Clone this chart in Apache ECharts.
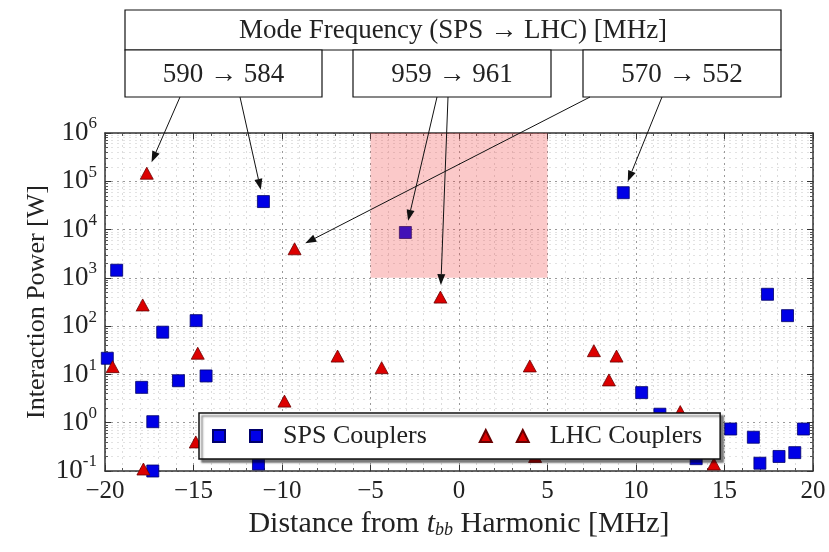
<!DOCTYPE html>
<html>
<head>
<meta charset="utf-8">
<title>Interaction Power</title>
<script src="https://cdn.jsdelivr.net/npm/echarts@6/dist/echarts.min.js"></script>
<style>
  html, body { margin: 0; padding: 0; background: #fff; }
  #chart { width: 829px; height: 552px; }
</style>
</head>
<body>
<div id="chart"></div>
<script>
// SPS 耦合器 (x: MHz, y: W)
const spsX = [-19.87, -19.34, -17.93, -17.3, -17.3, -16.74, -15.85, -14.85, -14.29, -11.33, -11.05, -3.03,
  9.28, 10.32, 11.35, 13.4, 15.35, 16.63, 17.0, 17.43, 18.08, 18.56, 18.97, 19.46];
const spsY = [21.6, 1440, 5.4, 1.05, 0.1, 75, 7.4, 130, 9.3, 0.14, 38000, 8700,
  58000, 4.2, 1.5, 0.18, 0.74, 0.5, 0.145, 457, 0.2, 165, 0.24, 0.74];

// LHC 耦合器
const lhcX = [-19.57, -17.87, -17.83, -17.64, -14.87, -14.76, -9.86, -9.29, -6.86, -4.37, -1.05,
  4.0, 4.3, 7.62, 8.47, 8.9, 12.5, 14.4];
const lhcY = [14.5, 275, 0.11, 147000, 0.4, 27.5, 2.8, 4000, 24, 13.8, 400,
  15, 0.2, 31, 7.7, 24, 1.7, 0.14];

const xTicks = [-20, -15, -10, -5, 0, 5, 10, 15, 20];
const yTicks = [0.1, 1, 10, 100, 1000, 10000, 100000, 1000000];

// 高亮区域
const zoneX = [-5, 5];
const zoneY = [1000, 1000000];

// 标注框
const headerText = 'Mode Frequency (SPS \u2192 LHC) [MHz]';
const modeLabels = ['590 \u2192 584', '959 \u2192 961', '570 \u2192 552'];
// 箭头指向的点: [series, index]
const arrowTargets = [['lhc', 3], ['sps', 10], ['sps', 11], ['lhc', 10], ['lhc', 7], ['sps', 12]];

(function() {
  const FONT = 'Liberation Serif';
  const chart = echarts.init(document.getElementById('chart'));

  function pairs(xs, ys) {
    return xs.map(function(x, i) { return [x, ys[i]]; });
  }

  function axisCommon() {
    return {
      axisLine: { show: true, onZero: false, lineStyle: { color: '#333', width: 1.5 } },
      axisTick: { show: true, inside: true, length: 6, lineStyle: { color: '#333' } },
      minorTick: { show: true, length: 3, lineStyle: { color: '#555' } }
    };
  }

  const option = {
    animation: false,
    grid: { left: 105, right: 16, top: 133, bottom: 81 },
    xAxis: [
      Object.assign(axisCommon(), {
        type: 'value', min: xTicks[0], max: xTicks[xTicks.length - 1], interval: 5,
        name: '{n|Distance from }{i|t}{sub|bb}{n| Harmonic [MHz]}',
        nameLocation: 'middle', nameGap: 37,
        nameTextStyle: {
          rich: {
            n: { fontFamily: FONT, fontSize: 30, color: '#222' },
            i: { fontFamily: FONT, fontSize: 30, fontStyle: 'italic', color: '#222' },
            sub: { fontFamily: FONT, fontSize: 18, fontStyle: 'italic', color: '#222', padding: [12, 0, 0, 0] }
          }
        },
        axisLabel: {
          fontFamily: FONT, fontSize: 25, color: '#222', margin: 8,
          formatter: function(v) { return String(v).replace('-', '\u2212'); }
        },
        minorTick: { show: true, splitNumber: 5, length: 3, lineStyle: { color: '#555' } },
        splitLine: { show: true, lineStyle: { color: '#9a9a9a', type: [2, 4] } },
        minorSplitLine: { show: true, lineStyle: { color: '#dcdcdc', type: [2, 4] } }
      }),
      Object.assign(axisCommon(), {
        type: 'value', position: 'top', min: -20, max: 20, interval: 5,
        axisLabel: { show: false }, splitLine: { show: false },
        minorTick: { show: true, splitNumber: 5, length: 3, lineStyle: { color: '#555' } }
      })
    ],
    yAxis: [
      Object.assign(axisCommon(), {
        type: 'log', logBase: 10, min: yTicks[0], max: yTicks[yTicks.length - 1],
        name: 'Interaction Power [W]', nameLocation: 'middle', nameGap: 55,
        nameMoveOverlap: false,
        nameTextStyle: { fontFamily: FONT, fontSize: 26, color: '#222' },
        axisLabel: {
          margin: 8,
          formatter: function(v) {
            return '{b|10}{s|' + Math.round(Math.log10(v)) + '}';
          },
          rich: {
            b: { fontFamily: FONT, fontSize: 27, color: '#222' },
            s: { fontFamily: FONT, fontSize: 17, color: '#222', padding: [0, 0, 18, 0] }
          }
        },
        minorTick: { show: true, splitNumber: 9, length: 3, lineStyle: { color: '#555' } },
        splitLine: { show: true, lineStyle: { color: '#9a9a9a', type: [2, 4] } },
        minorSplitLine: { show: true, lineStyle: { color: '#e2e2e2', type: [2, 4] } }
      }),
      Object.assign(axisCommon(), {
        type: 'log', logBase: 10, position: 'right', min: 0.1, max: 1000000,
        axisLabel: { show: false }, splitLine: { show: false },
        minorTick: { show: true, splitNumber: 9, length: 3, lineStyle: { color: '#555' } }
      })
    ],
    legend: {
      left: 199, top: 413,
      padding: [10, 18, 10, 13],
      itemWidth: 49, itemHeight: 12, itemGap: 52,
      backgroundColor: '#fff', borderColor: '#111', borderWidth: 1.5,
      shadowColor: 'rgba(0,0,0,0.5)', shadowBlur: 2, shadowOffsetX: 3, shadowOffsetY: 3,
      textStyle: { fontFamily: FONT, fontSize: 26, color: '#222', padding: [0, 0, 0, 16] },
      data: [
        { name: 'SPS Couplers', icon: 'path://M0,0H12V12H0Z M37,0H49V12H37Z' },
        { name: 'LHC Couplers', icon: 'path://M6,0L12,12L0,12Z M43,0L49,12L37,12Z' }
      ],
      selectedMode: false
    },
    series: [
      {
        name: 'SPS Couplers', type: 'scatter', symbol: 'rect', symbolSize: 12, z: 2,
        data: pairs(spsX, spsY),
        itemStyle: { color: '#0000e6', borderColor: '#00006a', borderWidth: 0.8, opacity: 1 }
      },
      {
        name: 'LHC Couplers', type: 'scatter', symbol: 'triangle', symbolSize: [13, 12], z: 2,
        data: pairs(lhcX, lhcY),
        itemStyle: { color: '#dc0000', borderColor: '#6a0000', borderWidth: 0.8, opacity: 1 }
      },
      {
        // 半透明区域盖在点上面
        name: 'zone', type: 'line', data: [], z: 3,
        markArea: {
          silent: true, z: 3,
          itemStyle: { color: 'rgba(240,60,60,0.28)' },
          data: [[{ coord: [zoneX[0], zoneY[0]] }, { coord: [zoneX[1], zoneY[1]] }]]
        }
      }
    ]
  };

  chart.setOption(option);

  /**
   * 画标注框和箭头
   */
  function drawAnnotations() {
    const els = [];
    const boxStyle = { fill: '#fff', stroke: '#111', lineWidth: 1.2 };
    const textStyle = { fontFamily: FONT, fontSize: 27, fill: '#222', align: 'center', verticalAlign: 'middle' };

    els.push({ type: 'rect', shape: { x: 125, y: 10, width: 656, height: 40 }, style: boxStyle, z: 10 });
    els.push({ type: 'text', x: 453, y: 31, style: Object.assign({ text: headerText, fontSize: 28 }, textStyle), z: 11 });

    const boxes = [[125, 197], [353, 198], [583, 198]];
    boxes.forEach(function(b, i) {
      els.push({ type: 'rect', shape: { x: b[0], y: 50, width: b[1], height: 47 }, style: boxStyle, z: 10 });
      els.push({ type: 'text', x: b[0] + b[1] / 2, y: 75, style: Object.assign({ text: modeLabels[i] }, textStyle), z: 11 });
    });

    // 箭头起点 (框底部)
    const starts = [[180, 97], [240, 97], [437, 97], [448, 97], [590, 97], [662, 97]];
    arrowTargets.forEach(function(t, i) {
      const xs = t[0] === 'sps' ? spsX : lhcX;
      const ys = t[0] === 'sps' ? spsY : lhcY;
      const p = chart.convertToPixel({ seriesIndex: t[0] === 'sps' ? 0 : 1 }, [xs[t[1]], ys[t[1]]]);
      const s = starts[i];
      const dx = p[0] - s[0], dy = p[1] - s[1];
      const len = Math.sqrt(dx * dx + dy * dy);
      const ux = dx / len, uy = dy / len;
      const tip = [p[0] - ux * 12, p[1] - uy * 12];
      const base = [tip[0] - ux * 11, tip[1] - uy * 11];
      const nx = -uy * 4, ny = ux * 4;
      els.push({ type: 'line', shape: { x1: s[0], y1: s[1], x2: base[0], y2: base[1] },
        style: { stroke: '#111', lineWidth: 1 }, z: 12 });
      els.push({ type: 'polygon', shape: { points: [tip, [base[0] + nx, base[1] + ny], [base[0] - nx, base[1] - ny]] },
        style: { fill: '#111' }, z: 12 });
    });

    chart.setOption({ graphic: els });
  }

  drawAnnotations();
})();
</script>
</body>
</html>
